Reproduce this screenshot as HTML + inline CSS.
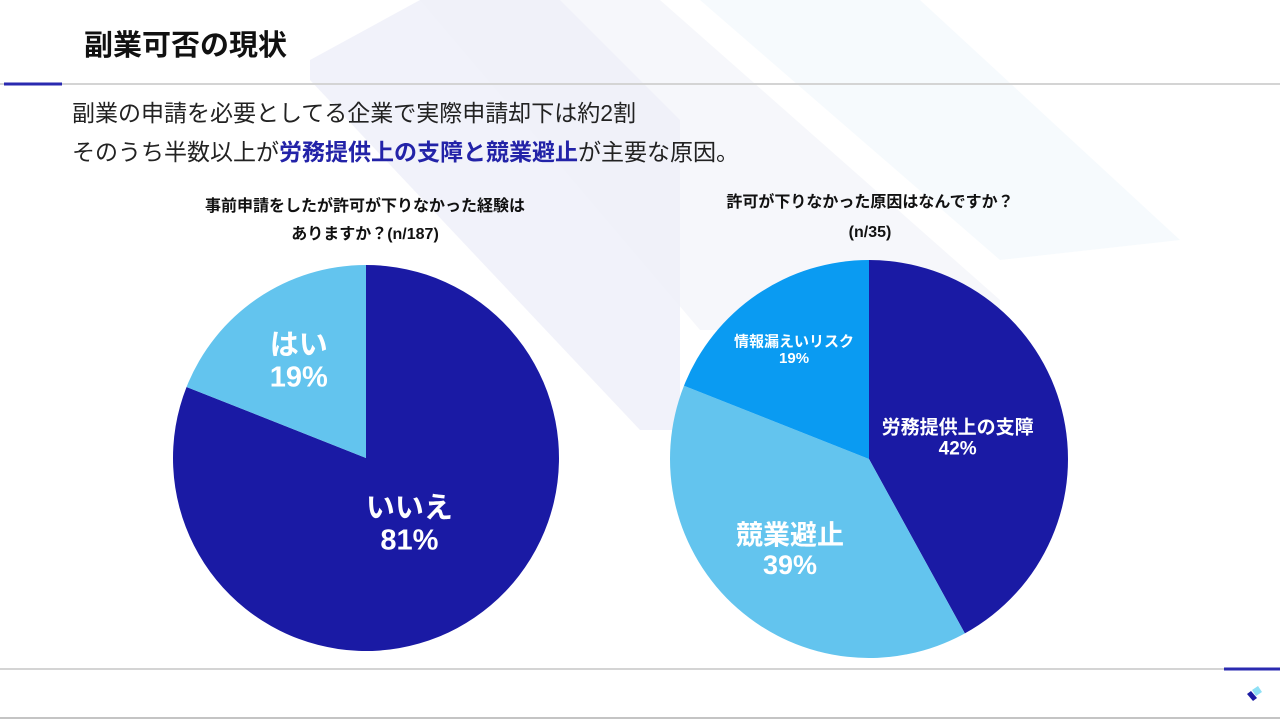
<!DOCTYPE html>
<html><head><meta charset="utf-8"><style>
body{margin:0;width:1280px;height:719px;overflow:hidden;background:#fff;font-family:"Liberation Sans","Noto Sans CJK JP",sans-serif;position:relative}
.a{position:absolute;white-space:nowrap}
</style></head><body>
<svg class="a" style="left:0;top:0" width="1280" height="719">
<polygon points="310,60 420,0 560,0 680,120 680,430 640,430 310,80" fill="#e8e9f6" opacity="0.6"/>
<polygon points="420,0 660,0 1000,300 1000,330 700,330" fill="#eef0f8" opacity="0.55"/>
<polygon points="700,0 920,0 1180,240 1000,260" fill="#eef6fb" opacity="0.55"/>
<line x1="0" y1="84" x2="1280" y2="84" stroke="#d4d4d4" stroke-width="2"/>
<line x1="4" y1="84" x2="62" y2="84" stroke="#2a2ab0" stroke-width="3"/>
<line x1="0" y1="669" x2="1280" y2="669" stroke="#d4d4d4" stroke-width="2"/>
<line x1="1224" y1="669" x2="1280" y2="669" stroke="#2a2ab0" stroke-width="3"/>
<line x1="0" y1="718" x2="1280" y2="718" stroke="#888" stroke-width="1"/>
<g><polygon points="1252,690 1258,686 1262,692 1256,696" fill="#8ee0f5"/><polygon points="1247,694 1251,691 1257,698 1253,701" fill="#1b1ba3"/></g>
</svg>
<div class="a" style="left:84px;top:22px;font-size:29px;font-weight:bold;color:#111">副業可否の現状</div>
<div class="a" style="left:72px;top:94px;font-size:23px;color:#222">副業の申請を必要としてる企業で実際申請却下は約2割</div>
<div class="a" style="left:72px;top:133px;font-size:23px;color:#222">そのうち半数以上が<b style="color:#2323a8">労務提供上の支障と競業避止</b>が主要な原因。</div>
<div class="a" style="left:150px;top:193px;width:430px;text-align:center;font-size:16px;font-weight:bold;line-height:28px;color:#111;white-space:normal">事前申請をしたが許可が下りなかった経験は<br>ありますか？(n/187)</div>
<div class="a" style="left:650px;top:188px;width:440px;text-align:center;font-size:16px;font-weight:bold;line-height:30px;color:#111;white-space:normal">許可が下りなかった原因はなんですか？<br>(n/35)</div>
<svg class="a" id="charts" style="left:0;top:0" width="1280" height="719"></svg>
<script>
const c1Labels=["いいえ","はい"];
const c1Values=[81,19];
const c2Labels=["労務提供上の支障","競業避止","情報漏えいリスク"];
const c2Values=[42,39,19];
const NS="http://www.w3.org/2000/svg";
const svg=document.getElementById('charts');
function pt(cx,cy,r,f){const a=f*2*Math.PI;return [cx+r*Math.sin(a),cy-r*Math.cos(a)];}
function pie(cx,cy,r,vals,labels,cols,lab,name){
 const tot=vals.reduce((a,b)=>a+b,0);let acc=0;
 vals.forEach((v,i)=>{
  const f0=acc/tot,f1=(acc+v)/tot;acc+=v;
  const p0=pt(cx,cy,r,f0),p1=pt(cx,cy,r,f1);
  const large=(f1-f0)>0.5?1:0;
  const p=document.createElementNS(NS,'path');
  p.setAttribute('d',`M${cx},${cy}L${p0[0]},${p0[1]}A${r},${r} 0 ${large} 1 ${p1[0]},${p1[1]}Z`);
  p.setAttribute('fill',cols[i]);
  
  
  svg.appendChild(p);
  const L=lab[i];const m=pt(cx,cy,r*L.rr,(f0+f1)/2);
  [labels[i],v+'%'].forEach((t,k)=>{
   const tx=document.createElementNS(NS,'text');
   tx.setAttribute('x',m[0]);tx.setAttribute('y',m[1]+(k?L.fs*0.95:-L.fs*0.15));
   tx.setAttribute('text-anchor','middle');tx.setAttribute('fill','#fff');
   tx.setAttribute('font-size',L.fs);tx.setAttribute('font-weight','bold');
   tx.textContent=t;
   
   
   svg.appendChild(tx);
  });
 });
}
pie(366,458,193,c1Values,c1Labels,["#1a1aa4","#63c4ee"],[{rr:0.4,fs:29},{rr:0.62,fs:29}],'chart1');
pie(869,459,199,c2Values,c2Labels,["#1a1aa4","#63c4ee","#0a9bf2"],[{rr:0.46,fs:19},{rr:0.6,fs:27},{rr:0.67,fs:15}],'chart2');
</script>
</body></html>
